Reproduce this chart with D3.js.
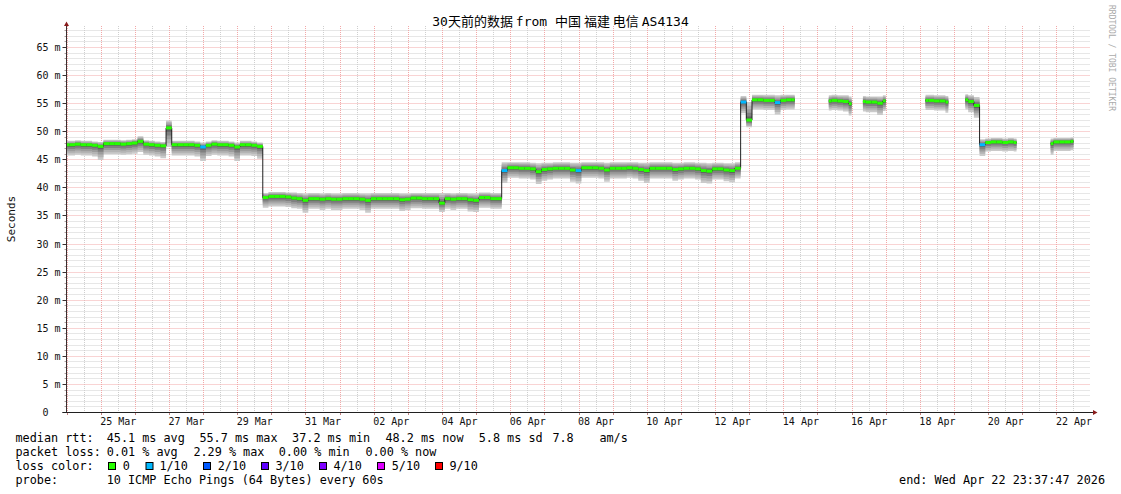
<!DOCTYPE html>
<html><head><meta charset="utf-8">
<script src="https://cdn.jsdelivr.net/npm/d3@7"></script>
<style>
html,body{margin:0;padding:0;background:#fff;}
svg{display:block;}
text{font-family:"DejaVu Sans Mono",monospace;white-space:pre;}
</style>
</head><body>
<svg id="chart" width="1121" height="494"></svg>
<script>
// ---------------- DATA ----------------
const title = "30天前的数据 from 中国 福建 电信 AS4134";
const yAxisTitle = "Seconds";
const watermark = "RRDTOOL / TOBI OETIKER";
const startTime = Date.UTC(2026, 2, 23, 23, 37, 47);
const endTime   = Date.UTC(2026, 3, 22, 23, 37, 47);
const stepHours = 4;

// median RTT (ms), one value every 4 hours, null = no data
const median = [
 47.6,47.6,47.7,47.6,47.6,47.5,47.3,47.8,47.8,47.8,
 47.7,47.8,47.9,48.2,47.7,47.6,47.5,47.4,50.6,47.6,
 47.6,47.6,47.6,47.5,47.2,47.5,47.7,47.6,47.6,47.5,
 47.2,47.6,47.6,47.5,47.3,
 38.2,38.4,38.4,38.4,38.3,38.1,38.0,37.7,38.0,38.0,
 37.9,38.0,37.9,37.9,38.0,38.0,38.0,37.9,37.7,38.0,
 38.0,38.0,38.0,38.0,37.8,37.9,38.1,38.1,38.0,38.0,
 38.0,37.2,38.0,37.9,38.0,38.0,37.8,37.7,38.2,38.2,
 38.0,38.0,
 43.0,43.5,43.5,43.4,43.4,43.3,42.8,43.2,43.3,43.4,
 43.4,43.4,43.1,43.0,43.5,43.5,43.5,43.4,43.1,43.4,
 43.4,43.4,43.5,43.4,43.2,43.0,43.4,43.4,43.4,43.4,
 43.2,43.3,43.4,43.4,43.3,43.0,42.9,43.3,43.3,43.1,
 43.0,43.4,
 55.2,52.0,55.6,55.6,55.5,55.5,55.1,55.5,55.6,55.6,
 null,null,null,null,null,
 55.4,55.5,55.4,55.3,54.9,
 null,
 55.3,55.2,55.2,55.0,55.4,
 null,null,null,null,null,null,
 55.5,55.5,55.4,55.4,55.2,
 null,null,
 55.6,55.3,54.6,47.6,48.0,48.1,48.1,48.0,48.1,48.0,
 null,null,null,null,null,
 47.8,48.1,48.1,48.1,48.2,
 null,null,null
];
// smoke extent above / below the median (ms)
const smokeUp = [
 .7,.7,.7,.7,.7,.7,.8,.7,.7,.7, .7,.7,.7,.9,.7,.7,.7,.7,1.3,.7,
 .7,.7,.7,.7,.8,.7,.7,.7,.7,.7, .8,.7,.7,.7,.7,
 .8,.8,.8,.8,.8,1.0,1.0,1.2,1.0,1.0, 1.0,1.0,1.0,1.0,1.0,1.0,1.0,1.0,1.2,1.0,
 1.0,1.0,1.0,1.0,1.1,1.0,.9,.9,1.0,1.0, 1.0,1.8,1.0,1.0,1.0,1.0,1.1,1.2,.9,.9,
 1.0,1.0,
 1.5,1.0,1.0,1.1,1.1,1.1,1.5,1.2,1.1,1.1, 1.1,1.1,1.3,1.4,1.0,1.0,1.0,1.1,1.3,1.1,
 1.1,1.1,1.0,1.1,1.2,1.4,1.1,1.1,1.1,1.1, 1.2,1.1,1.1,1.1,1.1,1.4,1.4,1.1,1.1,1.2,
 1.3,1.1,
 1.1,3.2,.9,.9,1.0,1.0,1.3,1.0,.9,.9,
 null,null,null,null,null,
 1.0,1.0,1.0,1.1,1.3,
 null,
 1.0,1.0,1.0,1.2,1.0,
 null,null,null,null,null,null,
 1.0,1.0,1.0,1.0,1.1,
 null,null,
 1.0,1.1,1.5,1.0,.7,.7,.7,.7,.7,.7,
 null,null,null,null,null,
 .9,.7,.7,.7,.7,
 null,null,null
];
const smokeDown = [
 1.9,1.9,1.9,1.9,1.9,2.0,2.4,1.9,1.9,1.9, 1.9,1.9,1.9,1.9,1.9,1.9,2.0,2.2,3.4,1.9,
 1.9,1.9,1.9,2.0,2.5,1.9,1.9,1.9,1.9,2.0, 2.5,1.9,1.9,1.9,2.2,
 1.8,1.8,1.8,1.8,1.8,1.8,1.8,2.2,1.8,1.8, 1.9,1.8,1.9,1.9,1.8,1.8,1.8,1.9,2.2,1.8,
 1.8,1.8,1.8,1.8,2.0,1.9,1.8,1.8,1.8,1.8, 1.8,1.6,1.8,1.9,1.8,1.8,2.1,2.1,1.8,1.8,
 1.8,1.8,
 2.2,1.8,1.8,1.8,1.8,1.9,2.2,2.0,1.9,1.8, 1.8,1.8,2.1,2.3,1.8,1.8,1.8,1.8,2.1,1.8,
 1.8,1.8,1.8,1.8,2.0,2.2,1.8,1.8,1.8,1.8, 2.0,1.9,1.8,1.8,1.9,2.2,2.2,1.9,1.9,2.0,
 2.1,1.8,
 2.0,1.3,1.7,1.7,1.7,1.7,2.1,1.7,1.7,1.7,
 null,null,null,null,null,
 1.7,1.7,1.7,1.8,2.1,
 null,
 1.8,1.8,1.8,2.1,1.8,
 null,null,null,null,null,null,
 1.7,1.7,1.7,1.7,1.9,
 null,null,
 1.7,1.9,2.2,2.0,1.6,1.6,1.6,1.6,1.6,1.6,
 null,null,null,null,null,
 2.0,1.6,1.6,1.6,1.6,
 null,null,null
];
// points with packet loss: index into series, pings lost out of 10
const lossIndex = [24, 77, 90, 119, 125, 161];
const lossCount = [1, 1, 1, 1, 1, 1];

const yTickValues = [0,5,10,15,20,25,30,35,40,45,50,55,60,65];
const yTickLabels = ["0  ","5 m","10 m","15 m","20 m","25 m","30 m","35 m","40 m","45 m","50 m","55 m","60 m","65 m"];
const xTickLabels = ["25 Mar","27 Mar","29 Mar","31 Mar","02 Apr","04 Apr","06 Apr","08 Apr","10 Apr","12 Apr","14 Apr","16 Apr","18 Apr","20 Apr","22 Apr"];

const lossLevels = [0,1,2,3,4,5,9];
const lossLabels = ["0","1/10","2/10","3/10","4/10","5/10","9/10"];
const lossColors = ["#26ff00","#00b8ff","#0059ff","#5e00ff","#7e00ff","#dd00ff","#ff0000"];

const rttLabel = "median rtt:";
const rttStats = ["45.1 ms avg","55.7 ms max","37.2 ms min","48.2 ms now","5.8 ms sd","7.8","am/s"];
const lossStatLabel = "packet loss:";
const lossStats = ["0.01 % avg","2.29 % max","0.00 % min","0.00 % now"];
const lossColorLabel = "loss color:";
const probeLabel = "probe:";
const probeText = "10 ICMP Echo Pings (64 Bytes) every 60s";

// ---------------- LAYOUT ----------------
const MONO = '"DejaVu Sans Mono", monospace';
const CJK = '"Noto Sans CJK SC", sans-serif';
const plot = {left: 66.5, right: 1090.5, top: 26, bottom: 412};
const rttX = [107.3, 200, 292.7, 386, 479.3, 553, 600];
const lossX = [107.3, 194, 279.3, 366];
const boxX = [108, 145.5, 203, 261, 319, 377, 435];
const boxTextX = [123.3, 160, 218.3, 276, 334, 392.3, 450];
const legY = [442, 456, 470, 484];
const legFont = 11.8;

const svg = d3.select("#chart");
svg.append("rect").attr("width",1121).attr("height",494).attr("fill","#fff");

const x = d3.scaleUtc().domain([startTime, endTime]).range([plot.left, plot.right]);
const y = d3.scaleLinear().domain([0, 68.75]).range([plot.bottom, plot.top]);
const py = v => Math.round(y(v)) + 0.5;
const px = t => Math.round(x(t) - 0.5) + 0.5;

const lossMap = new Map(lossIndex.map((k, j) => [k, lossCount[j]]));
const pts = median.map((m, i) => ({
  t: new Date(startTime + i * stepHours * 3600e3),
  m, up: smokeUp[i], dn: smokeDown[i], loss: lossMap.get(i) || 0
}));

// ---------------- GRID ----------------
const grid = svg.append("g");
const minorY = d3.range(1, 69).filter(v => v % 5 !== 0);
grid.selectAll(".hmin").data(minorY).join("line")
  .attr("x1", plot.left).attr("x2", plot.right)
  .attr("y1", py).attr("y2", py)
  .attr("stroke", "#cfcfcf").attr("stroke-dasharray", "1,1");
const noons = d3.utcHour.every(12).range(new Date(startTime), new Date(endTime)).filter(d => d.getUTCHours() === 12);
const mids = d3.utcDay.range(new Date(startTime), new Date(endTime));
grid.selectAll(".vmin").data(noons).join("line")
  .attr("x1", px).attr("x2", px).attr("y1", plot.top).attr("y2", plot.bottom)
  .attr("stroke", "#cfcfcf").attr("stroke-dasharray", "1,1");
grid.selectAll(".hmaj").data(yTickValues.filter(v => v > 0)).join("line")
  .attr("x1", plot.left).attr("x2", plot.right)
  .attr("y1", py).attr("y2", py)
  .attr("stroke", "#f2a8a8").attr("stroke-dasharray", "1,1");
grid.selectAll(".vmaj").data(mids).join("line")
  .attr("x1", px).attr("x2", px).attr("y1", plot.top).attr("y2", plot.bottom)
  .attr("stroke", "#f2a8a8").attr("stroke-dasharray", "1,1");

// ---------------- SMOKE ----------------
const fracs = [1, 0.8, 0.6, 0.4, 0.2];
const greys = ["#cacaca", "#b4b4b4", "#9c9c9c", "#808080", "#606060"];
fracs.forEach((f, k) => {
  const area = d3.area().defined(d => d.m != null).curve(d3.curveStep)
    .x(d => x(d.t)).y0(d => y(d.m - d.dn * f)).y1(d => y(d.m + d.up * f));
  svg.append("path").datum(pts).attr("d", area).attr("fill", greys[k]);
});

// median line
const line = d3.line().defined(d => d.m != null).curve(d3.curveStep)
  .x(d => x(d.t)).y(d => y(d.m));
svg.append("path").datum(pts).attr("d", line).attr("fill", "none")
  .attr("stroke", "#202020").attr("stroke-width", 1);

// loss-coloured median band
const colorOf = c => lossColors[Math.max(0, lossLevels.findIndex(l => l >= c))];
const segs = pts.map((d, i) => {
  if (d.m == null) return null;
  const xi = x(d.t), p = pts[i - 1], n = pts[i + 1];
  const l = p && p.m != null ? (x(p.t) + xi) / 2 : xi;
  const r = n && n.m != null ? (x(n.t) + xi) / 2 : xi;
  return {l, r, m: d.m, loss: d.loss};
}).filter(Boolean);
svg.append("g").selectAll("rect").data(segs).join("rect")
  .attr("x", d => d.l).attr("width", d => d.r - d.l)
  .attr("y", d => y(d.m) - 1.5).attr("height", 3)
  .attr("fill", d => colorOf(d.loss));

// ---------------- AXES ----------------
const axisCol = "#3a3030", arrowCol = "#8a1c1c";
const ax = svg.append("g");
ax.selectAll(".ytm").data(minorY).join("line")
  .attr("x1", plot.left - 2).attr("x2", plot.left).attr("y1", py).attr("y2", py)
  .attr("stroke", "#b0a0a0");
ax.selectAll(".ytM").data(yTickValues).join("line")
  .attr("x1", plot.left - 4).attr("x2", plot.left).attr("y1", py).attr("y2", py)
  .attr("stroke", axisCol);
ax.selectAll(".xtM").data(mids).join("line")
  .attr("x1", px).attr("x2", px).attr("y1", plot.bottom).attr("y2", plot.bottom + 3)
  .attr("stroke", "#c08080");
ax.append("line").attr("x1", plot.left).attr("x2", plot.left)
  .attr("y1", plot.bottom + 1).attr("y2", plot.top).attr("stroke", axisCol);
ax.append("line").attr("x1", plot.left - 4).attr("x2", plot.right + 3)
  .attr("y1", plot.bottom + 0.5).attr("y2", plot.bottom + 0.5).attr("stroke", "#202020");
ax.append("path").attr("d", `M${plot.left-2.5},${plot.top} L${plot.left+2.5},${plot.top} L${plot.left},${plot.top-4.5}Z`).attr("fill", arrowCol);
ax.append("path").attr("d", `M${plot.right+2.5},${plot.bottom-2} L${plot.right+2.5},${plot.bottom+3} L${plot.right+7},${plot.bottom+0.5}Z`).attr("fill", arrowCol);

svg.append("g").selectAll("text").data(yTickValues).join("text")
  .attr("x", 60.5).attr("y", v => Math.round(y(v)) + 4)
  .attr("text-anchor", "end").attr("font-size", 10).attr("fill", "#111")
  .text((v, i) => yTickLabels[i]);
const parseDay = d3.utcParse("%d %b %Y");
svg.append("g").selectAll("text").data(xTickLabels).join("text")
  .attr("x", s => x(new Date(parseDay(s + " 2026").getTime() + 12 * 3600e3)))
  .attr("y", 425).attr("text-anchor", "middle").attr("font-size", 10).attr("fill", "#111")
  .text(s => s);

// ---------------- TITLES ----------------
const isCJK = c => /[\u2e80-\u9fff\uf900-\ufaff\uff00-\uffef]/.test(c);
const runs = [];
let prevC = false;
for (const ch of title) {
  const c = ch === " " ? prevC : isCJK(ch);
  if (ch !== " ") prevC = c;
  if (runs.length && runs[runs.length - 1].c === c) runs[runs.length - 1].s += ch;
  else runs.push({c, s: ch});
}
const tt = svg.append("text").attr("x", 560.5).attr("y", 26).attr("text-anchor", "middle")
  .attr("font-size", 13).attr("fill", "#000");
tt.selectAll("tspan").data(runs).join("tspan")
  .attr("font-family", d => d.c ? CJK : MONO).text(d => d.s);

svg.append("text").attr("transform", `translate(14.5,${(plot.top + plot.bottom) / 2}) rotate(-90)`)
  .attr("text-anchor", "middle").attr("font-size", 11).attr("fill", "#111").text(yAxisTitle);
svg.append("text").attr("transform", "translate(1109,5) rotate(90)")
  .attr("font-size", 8).attr("fill", "#aaaaaa").text(watermark);

// ---------------- LEGEND ----------------
const leg = svg.append("g").attr("font-size", legFont).attr("fill", "#000");
const addT = (xx, yy, s, anchor) => leg.append("text").attr("x", xx).attr("y", yy)
  .attr("text-anchor", anchor || "start").text(s);
addT(15.5, legY[0], rttLabel);
rttStats.forEach((s, i) => addT(rttX[i] - 0.6, legY[0], s));
addT(15.5, legY[1], lossStatLabel);
lossStats.forEach((s, i) => addT(lossX[i] - 0.6, legY[1], s));
addT(15.5, legY[2], lossColorLabel);
leg.selectAll(".lb").data(lossColors).join("rect")
  .attr("x", (d, i) => boxX[i] + 0.5).attr("y", 462.5).attr("width", 7).attr("height", 7)
  .attr("fill", d => d).attr("stroke", "#000");
lossLabels.forEach((s, i) => addT(boxTextX[i] - 0.6, legY[2], s));
addT(15.5, legY[3], probeLabel);
addT(107.3 - 0.6, legY[3], probeText);
addT(1105, legY[3], "end: " + d3.utcFormat("%a %b %d %H:%M:%S %Y")(new Date(endTime)), "end");
</script>
</body></html>
